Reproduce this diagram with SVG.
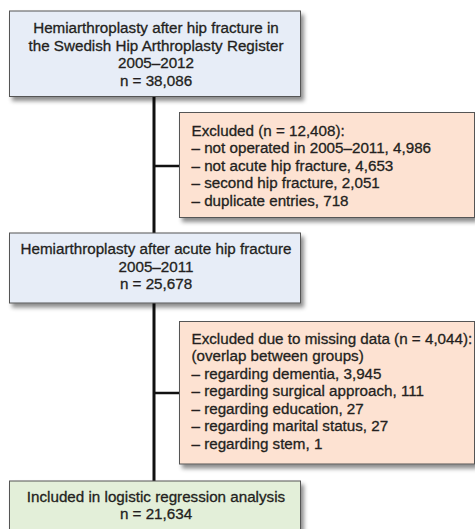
<svg xmlns="http://www.w3.org/2000/svg" width="475" height="529" viewBox="0 0 475 529">
<defs>
<filter id="sh" x="-10%" y="-10%" width="130%" height="140%">
<feDropShadow dx="3" dy="4" stdDeviation="2.2" flood-color="#000" flood-opacity="0.45"/>
</filter>
</defs>
<style>
.box{stroke:#555;stroke-width:1;filter:url(#sh)}
.blue{fill:#e7edf7}
.peach{fill:#fde2d2}
.green{fill:#e3efd9}
text{font-family:"Liberation Sans",Arial,sans-serif;font-size:15.2px;fill:#231f20;stroke:#231f20;stroke-width:0.3}
.c{text-anchor:middle}
.conn{stroke:#111;fill:none}
</style>
<rect width="475" height="529" fill="#fff"/>
<g id="connectors">
<line class="conn" x1="154" y1="96" x2="154" y2="482" stroke-width="3"/>
<line class="conn" x1="154" y1="166" x2="180" y2="166" stroke-width="2.5"/>
<line class="conn" x1="154" y1="393" x2="180" y2="393" stroke-width="2.5"/>
</g>
<g id="n1">
<rect class="box blue" x="9.5" y="11" width="291" height="85.5"/>
<text class="c" x="156" y="33.3">Hemiarthroplasty after hip fracture in</text>
<text class="c" x="156" y="50.8">the Swedish Hip Arthroplasty Register</text>
<text class="c" x="156" y="68.3">2005–2012</text>
<text class="c" x="156" y="85.8">n = 38,086</text>
</g>
<g id="n2">
<rect class="box peach" x="179.5" y="112.5" width="295" height="105"/>
<text x="191.5" y="135.5">Excluded (n = 12,408):</text>
<text x="191.5" y="153">– not operated in 2005–2011, 4,986</text>
<text x="191.5" y="170.5">– not acute hip fracture, 4,653</text>
<text x="191.5" y="188">– second hip fracture, 2,051</text>
<text x="191.5" y="205.5">– duplicate entries, 718</text>
</g>
<g id="n3">
<rect class="box blue" x="9.5" y="233" width="291" height="70"/>
<text class="c" x="156" y="254">Hemiarthroplasty after acute hip fracture</text>
<text class="c" x="156" y="271.6">2005–2011</text>
<text class="c" x="156" y="289.2">n = 25,678</text>
</g>
<g id="n4">
<rect class="box peach" x="179.5" y="321.5" width="295" height="142.5"/>
<text x="191.5" y="343.5">Excluded due to missing data (n = 4,044):</text>
<text x="191.5" y="361">(overlap between groups)</text>
<text x="191.5" y="378.5">– regarding dementia, 3,945</text>
<text x="191.5" y="396">– regarding surgical approach, 111</text>
<text x="191.5" y="413.5">– regarding education, 27</text>
<text x="191.5" y="431">– regarding marital status, 27</text>
<text x="191.5" y="448.5">– regarding stem, 1</text>
</g>
<g id="n5">
<rect class="box green" x="9.5" y="481" width="291" height="60"/>
<text class="c" x="156" y="501.7">Included in logistic regression analysis</text>
<text class="c" x="156" y="519.3">n = 21,634</text>
</g>
</svg>
